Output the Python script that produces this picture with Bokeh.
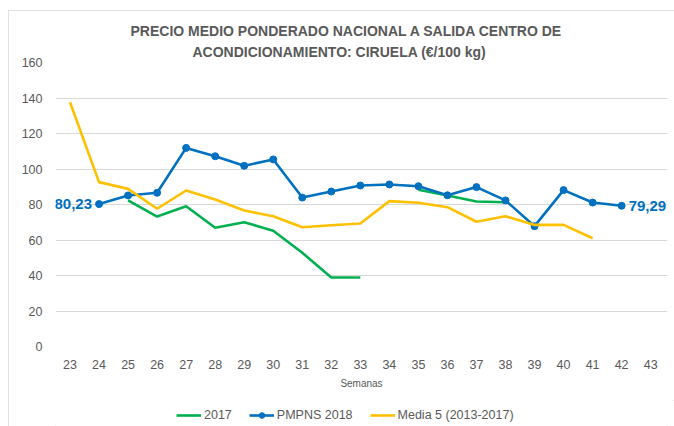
import math
from bokeh.plotting import figure
from bokeh.layouts import column
from bokeh.models import Range1d, FixedTicker, Legend, LegendItem, Title, ColumnDataSource
from bokeh.core.properties import value
from bokeh.embed import file_html
from bokeh.resources import INLINE

nan = float("nan")
weeks = list(range(23, 44))
y2017 = [nan, nan, 82.3, 73.2, 79.0, 66.9, 70.0, 65.2, 52.8, 38.9, 38.9, nan,
         88.3, 85.1, 81.7, 81.3, nan, nan, nan, nan, nan]
pmpns2018 = [nan, 80.23, 85.1, 86.6, 111.9, 107.2, 101.8, 105.4, 83.9, 87.3, 90.7,
             91.3, 90.3, 85.2, 89.8, 82.3, 67.8, 88.1, 81.1, 79.29, nan]
media5 = [137.6, 92.6, 88.8, 77.6, 87.9, 82.8, 76.6, 73.4, 67.2, 68.3, 69.3, 81.9,
          81.0, 78.5, 70.3, 73.4, 68.5, 68.5, 61.0, nan, nan]
series_names = ["2017", "PMPNS 2018", "Media 5 (2013-2017)"]
title_lines = ["PRECIO MEDIO PONDERADO NACIONAL A SALIDA CENTRO DE",
               "ACONDICIONAMIENTO: CIRUELA (€/100 kg)"]
y_ticks = [0, 20, 40, 60, 80, 100, 120, 140, 160]

FONT = "Liberation Sans"
GREY = "#595959"
GREEN = "#00B050"
BLUE = "#0070C0"
YELLOW = "#FFC000"
LW = 2.6

p = figure(width=666, height=390, output_backend="svg", toolbar_location=None,
           x_range=Range1d(22.5, 43.58), y_range=Range1d(0, 160),
           min_border_left=47, min_border_right=7, min_border_top=52,
           min_border_bottom=54)
p.title = None
p.outline_line_color = None
p.background_fill_color = "white"
p.border_fill_color = "white"

title_offsets = [75, 137]
title_standoffs = [1, 5]
for line, off, so in reversed(list(zip(title_lines, title_offsets, title_standoffs))):
    t = Title(text=line, align="left", text_font=FONT, text_font_size="14px",
              text_font_style="bold", text_color=GREY, standoff=so, offset=off)
    p.add_layout(t, "above")

# grid
p.xgrid.grid_line_color = None
p.ygrid.grid_line_color = "#d9d9d9"
p.ygrid.grid_line_width = 1

# axes
p.yaxis.ticker = FixedTicker(ticks=y_ticks)
p.xaxis.ticker = FixedTicker(ticks=weeks)
for ax in (p.xaxis[0], p.yaxis[0]):
    ax.axis_line_color = None
    ax.major_tick_line_color = None
    ax.minor_tick_line_color = None
    ax.major_tick_out = 0
    ax.major_tick_in = 0
    ax.major_label_text_font = FONT
    ax.major_label_text_font_size = "12.5px"
    ax.major_label_text_color = GREY
p.yaxis.major_label_standoff = 13
p.xaxis.major_label_standoff = 13
p.xaxis.axis_label = "Semanas"
p.xaxis.axis_label_text_font = FONT
p.xaxis.axis_label_text_font_size = "10px"
p.xaxis.axis_label_text_font_style = "normal"
p.xaxis.axis_label_text_color = GREY
p.xaxis.axis_label_standoff = 6

src = ColumnDataSource(dict(week=weeks, y2017=y2017, pm=pmpns2018, m5=media5))

p.line("week", "y2017", source=src, line_color=GREEN, line_width=LW)
p.line("week", "pm", source=src, line_color=BLUE, line_width=LW)
p.scatter("week", "pm", source=src, size=7, marker="circle",
          fill_color=BLUE, line_color=BLUE)
p.line("week", "m5", source=src, line_color=YELLOW, line_width=LW)

# data labels for first and last PMPNS 2018 values
valid = [(w, v) for w, v in zip(weeks, pmpns2018) if not math.isnan(v)]
first, last = valid[0], valid[-1]
fmt = lambda v: f"{v:.2f}".replace(".", ",")
p.text(x=[first[0]], y=[first[1]], text=[fmt(first[1])], text_align="right",
       text_baseline="middle", x_offset=-7, text_font=value(FONT),
       text_font_size="15px", text_font_style="bold", text_color=BLUE)
p.text(x=[last[0]], y=[last[1]], text=[fmt(last[1])], text_align="left",
       text_baseline="middle", x_offset=7, text_font=value(FONT),
       text_font_size="15px", text_font_style="bold", text_color=BLUE)

# legend strip (separate small figure below the chart)
lg = figure(width=666, height=26, output_backend="svg", toolbar_location=None,
            x_range=Range1d(0, 1), y_range=Range1d(0, 1),
            min_border=0, min_border_left=0, min_border_right=0,
            min_border_top=0, min_border_bottom=0)
lg.title = None
lg.axis.visible = False
lg.grid.visible = False
lg.outline_line_color = None
lg.border_fill_color = "white"
e = ColumnDataSource(dict(x=[nan], y=[nan]))
g_green = lg.line("x", "y", source=e, line_color=GREEN, line_width=LW)
g_blue = lg.line("x", "y", source=e, line_color=BLUE, line_width=LW)
g_blue_m = lg.scatter("x", "y", source=e, size=7, marker="circle",
                      fill_color=BLUE, line_color=BLUE)
g_yel = lg.line("x", "y", source=e, line_color=YELLOW, line_width=LW)

legend = Legend(items=[
    LegendItem(label=series_names[0], renderers=[g_green]),
    LegendItem(label=series_names[1], renderers=[g_blue, g_blue_m]),
    LegendItem(label=series_names[2], renderers=[g_yel]),
], orientation="horizontal", location=(121, 4),
    label_text_font=FONT, label_text_font_size="12.5px", label_text_color=GREY,
    glyph_width=25, glyph_height=14, label_standoff=3, spacing=17,
    padding=0, margin=0, border_line_color=None, background_fill_alpha=0)
lg.add_layout(legend, "center")

layout = column(p, lg, spacing=0)
layout.styles = {"margin-left": "8px", "margin-top": "10px",
                 "outline": "1px solid #d9d9d9", "outline-offset": "-1px"}

open("out.html", "w").write(file_html(layout, INLINE))
